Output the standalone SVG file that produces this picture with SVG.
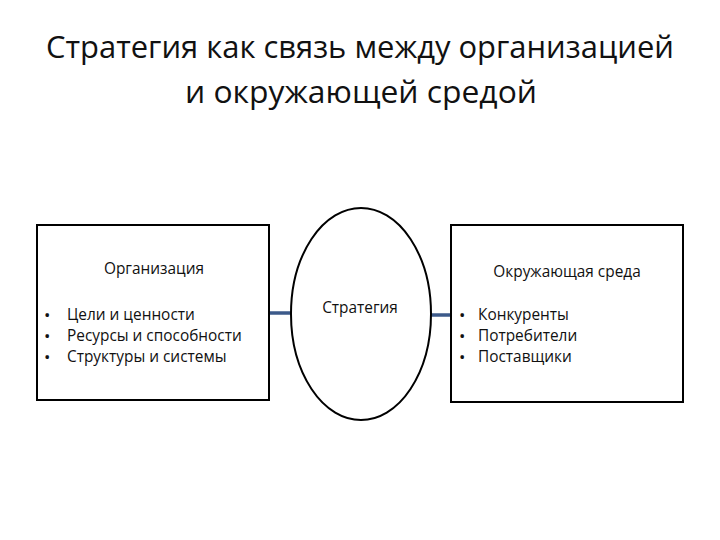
<svg xmlns="http://www.w3.org/2000/svg" width="720" height="540" viewBox="0 0 720 540">
<style>
.t{font-family:"Open Sans","Liberation Sans",sans-serif;fill:#111}
.title{font-size:31px}
.lab{font-size:15.4px}
.bul{font-size:17px}
.box{fill:#fff;stroke:#000;stroke-width:2}
.conn{stroke:#3c5a8a;stroke-width:3.5;fill:none}
</style>
<rect width="720" height="540" fill="#fff"/>
<g id="title">
<text class="t title" x="360" y="58" text-anchor="middle" textLength="628" lengthAdjust="spacingAndGlyphs">Стратегия как связь между организацией</text>
<text class="t title" x="361" y="103" text-anchor="middle" textLength="352" lengthAdjust="spacingAndGlyphs">и окружающей средой</text>
</g>
<g id="connectors">
<line class="conn" x1="270" y1="313" x2="291" y2="313"/>
<line class="conn" x1="431" y1="315" x2="451" y2="315"/>
</g>
<g id="organization">
<rect class="box" x="37" y="225" width="232" height="175"/>
<text class="t lab" x="154" y="274" text-anchor="middle">Организация</text>
<text class="t bul" x="44" y="321">•</text><text class="t lab" x="67" y="320">Цели и ценности</text>
<text class="t bul" x="44" y="342">•</text><text class="t lab" x="67" y="341">Ресурсы и способности</text>
<text class="t bul" x="44" y="363">•</text><text class="t lab" x="67" y="362">Структуры и системы</text>
</g>
<g id="strategy">
<ellipse class="box" cx="361" cy="314" rx="70" ry="106" stroke-width="2.5"/>
<text class="t lab" x="360" y="313" text-anchor="middle">Стратегия</text>
</g>
<g id="environment">
<rect class="box" x="451" y="225" width="232" height="177"/>
<text class="t lab" x="567" y="277" text-anchor="middle">Окружающая среда</text>
<text class="t bul" x="459" y="321">•</text><text class="t lab" x="478" y="320">Конкуренты</text>
<text class="t bul" x="459" y="342">•</text><text class="t lab" x="478" y="341">Потребители</text>
<text class="t bul" x="459" y="363">•</text><text class="t lab" x="478" y="362">Поставщики</text>
</g>
</svg>
